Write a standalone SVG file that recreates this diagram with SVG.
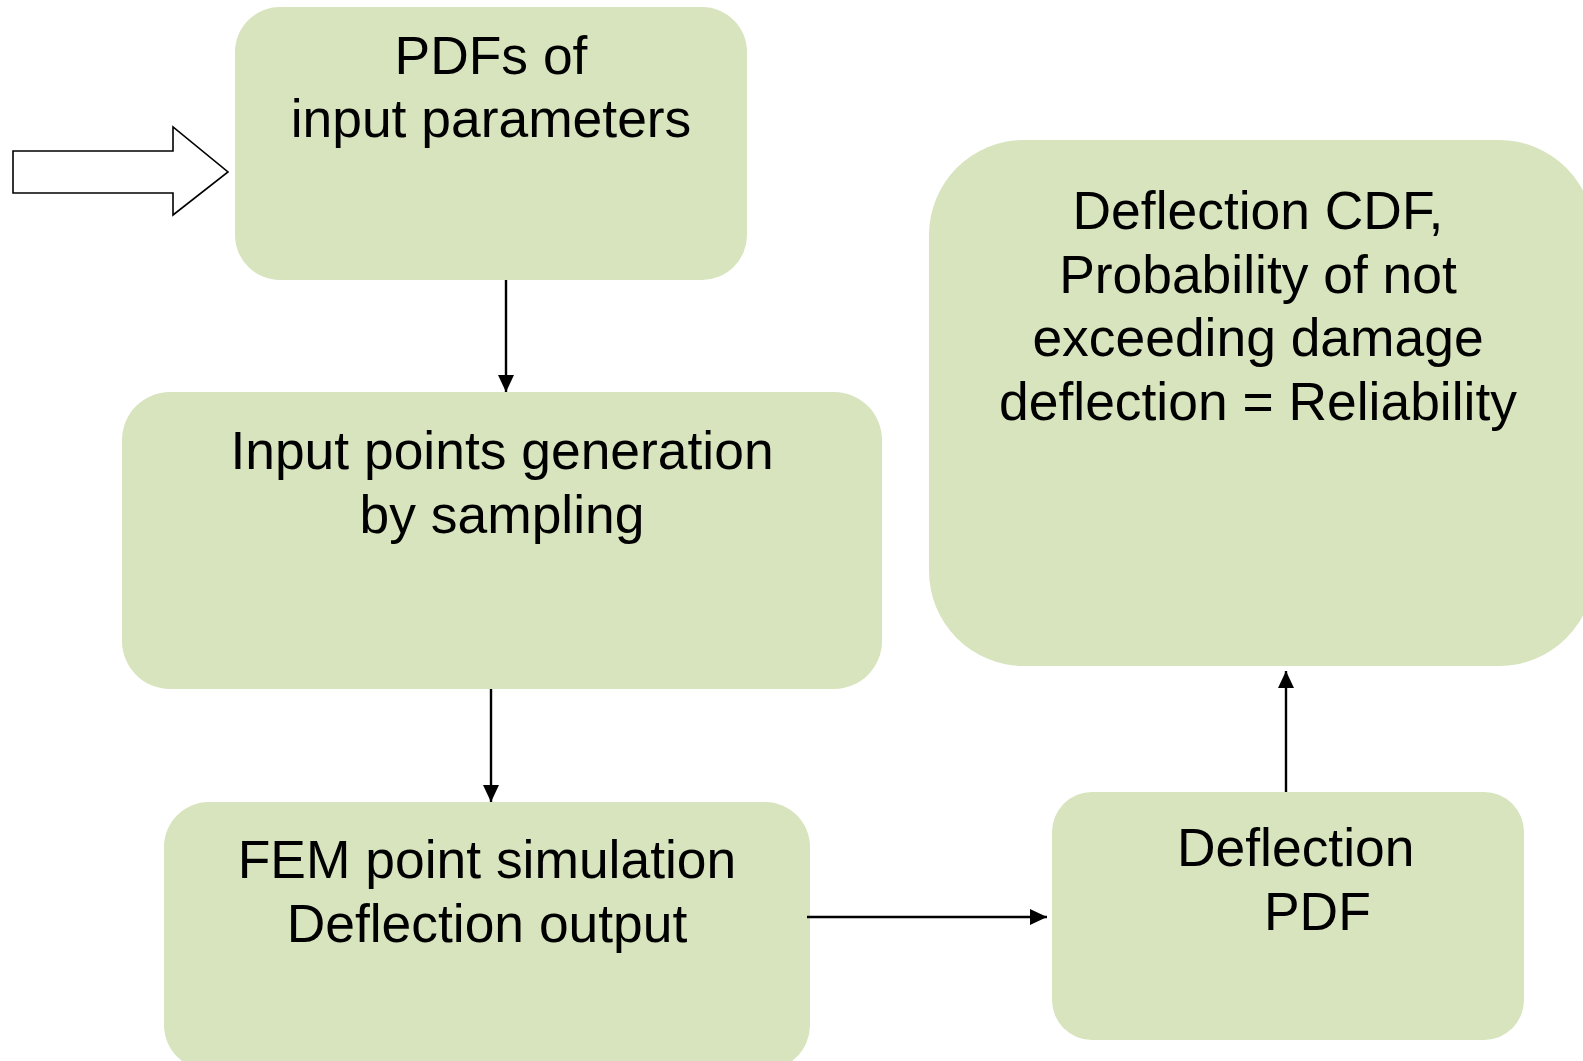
<svg xmlns="http://www.w3.org/2000/svg" width="1583" height="1061" viewBox="0 0 1583 1061">
  <style>
    .box { fill: #d7e4bd; stroke: none; }
    .lbl { font-family: "Liberation Sans", Arial, sans-serif; font-size: 53.4px; fill: #000; text-anchor: middle; }
    .lbl-s { font-family: "Liberation Sans", Arial, sans-serif; font-size: 53.4px; fill: #000; text-anchor: start; }
    .conn { stroke: #000; stroke-width: 2.4; fill: none; marker-end: url(#head); }
  </style>
  <defs>
    <marker id="head" markerUnits="userSpaceOnUse" markerWidth="18" markerHeight="16" refX="17" refY="8" orient="auto">
      <path d="M0,0 L17,8 L0,16 Z" fill="#000"/>
    </marker>
  </defs>

  <rect width="1583" height="1061" fill="#fff"/>

  <!-- entry arrow (outlined block arrow) -->
  <g id="entry-arrow">
    <polygon points="13,151 173,151 173,127 228,172 173,215 173,193 13,193" fill="#fff" stroke="#000" stroke-width="1.6" stroke-linejoin="miter"/>
  </g>

  <g id="node-pdfs">
    <rect class="box" x="235" y="7" width="512" height="273" rx="45" ry="45"/>
    <text class="lbl" x="491" y="74">PDFs of</text>
    <text class="lbl" x="491" y="137">input parameters</text>
  </g>

  <g id="node-sampling">
    <rect class="box" x="122" y="392" width="760" height="297" rx="48" ry="48"/>
    <text class="lbl" x="502" y="469">Input points generation</text>
    <text class="lbl" x="502" y="533">by sampling</text>
  </g>

  <g id="node-fem">
    <rect class="box" x="164" y="802" width="646" height="268" rx="45" ry="45"/>
    <text class="lbl" x="487" y="878">FEM point simulation</text>
    <text class="lbl" x="487" y="942">Deflection output</text>
  </g>

  <g id="node-deflection-pdf">
    <rect class="box" x="1052" y="792" width="472" height="248" rx="40" ry="40"/>
    <text class="lbl-s" x="1177" y="866">Deflection</text>
    <text class="lbl-s" x="1264" y="930">PDF</text>
  </g>

  <g id="node-reliability">
    <rect class="box" x="929" y="140" width="665" height="526" rx="95" ry="95"/>
    <text class="lbl" x="1258" y="229">Deflection CDF,</text>
    <text class="lbl" x="1258" y="293">Probability of not</text>
    <text class="lbl" x="1258" y="356">exceeding damage</text>
    <text class="lbl" x="1258" y="420">deflection = Reliability</text>
  </g>

  <g id="connectors">
    <line class="conn" x1="506" y1="280" x2="506" y2="392"/>
    <line class="conn" x1="491" y1="689" x2="491" y2="802"/>
    <line class="conn" x1="807" y1="917" x2="1047" y2="917"/>
    <line class="conn" x1="1286" y1="792" x2="1286" y2="671"/>
  </g>
</svg>
